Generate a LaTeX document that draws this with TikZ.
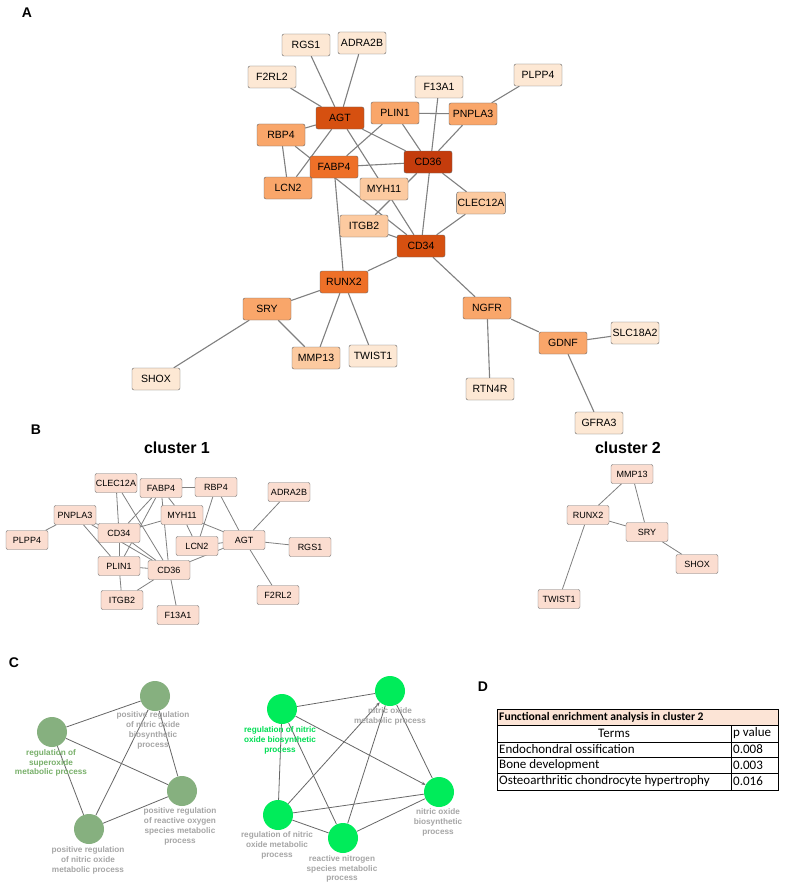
\documentclass[tikz,border=0pt]{standalone}
\usepackage{fontspec}
\setmainfont{Liberation Sans}
\newfontfamily\tablefont{Carlito}
\usetikzlibrary{positioning, arrows.meta, backgrounds}

\definecolor{shadeV}{RGB}{196,60,12}
\definecolor{shadeIV}{RGB}{214,80,16}
\definecolor{shadeIII}{RGB}{238,112,40}
\definecolor{shadeII}{RGB}{249,166,106}
\definecolor{shadeI}{RGB}{252,202,160}
\definecolor{shade0}{RGB}{253,232,212}
\definecolor{clusterfill}{RGB}{251,221,208}
\definecolor{termgrey}{RGB}{134,176,127}
\definecolor{termgreen}{RGB}{0,236,90}
\definecolor{labgreen}{RGB}{120,176,106}
\definecolor{labbright}{RGB}{0,222,84}
\definecolor{headfill}{RGB}{252,228,214}

\begin{document}
\begin{tikzpicture}[
        x=1pt, y=-1pt,
        gene/.style={draw=black!60, rounded corners=2pt, fill=shade0, minimum width=48pt, minimum height=22pt, inner sep=1pt, font=\fontsize{10.5}{10.5}\selectfont},
        member/.style={draw=black!55, rounded corners=2pt, fill=clusterfill, minimum width=42pt, minimum height=19pt, inner sep=1pt, font=\fontsize{9}{9}\selectfont},
        panel/.style={font=\fontsize{14}{14}\selectfont\bfseries},
        heading/.style={font=\fontsize{16}{16}\selectfont\bfseries},
        term/.style={circle, minimum size=30pt, inner sep=0pt},
        termtext/.style={align=center, text=black!35, inner sep=0pt, font=\fontsize{8.2}{9.8}\selectfont\bfseries},
        cell/.style={inner sep=0pt, font=\tablefont\fontsize{13}{13}\selectfont},
        link/.style={draw=black!50, line width=1.1pt},
        flow/.style={draw=black!60, line width=0.8pt}
    ]

    % Panel letters
    \node[panel] (lab-a) at (27,13) {A};
    \node[panel] (lab-b) at (36,430) {B};
    \node[panel] (lab-c) at (14,663) {C};
    \node[panel] (lab-d) at (483,687) {D};

    % Panel A: whole network
    \node[gene] (rgs1) at (306,45) {RGS1};
    \node[gene] (adra2b) at (362,43) {ADRA2B};
    \node[gene] (f2rl2) at (272,77) {F2RL2};
    \node[gene] (plpp4) at (538,75) {PLPP4};
    \node[gene] (f13a1) at (439,87) {F13A1};
    \node[gene, fill=shadeIV] (agt) at (340,118) {AGT};
    \node[gene, fill=shadeII] (plin1) at (395,113) {PLIN1};
    \node[gene, fill=shadeII] (pnpla3) at (473,114) {PNPLA3};
    \node[gene, fill=shadeII] (rbp4) at (281,135) {RBP4};
    \node[gene, fill=shadeV] (cd36) at (428,162) {CD36};
    \node[gene, fill=shadeIII] (fabp4) at (334,167) {FABP4};
    \node[gene, fill=shadeII] (lcn2) at (288,188) {LCN2};
    \node[gene, fill=shadeI] (myh11) at (384,189) {MYH11};
    \node[gene, fill=shadeI] (clec12a) at (481,203) {CLEC12A};
    \node[gene, fill=shadeI] (itgb2) at (364,226) {ITGB2};
    \node[gene, fill=shadeIV] (cd34) at (421,246) {CD34};
    \node[gene, fill=shadeIII] (runx2) at (344,282) {RUNX2};
    \node[gene, fill=shadeII] (sry) at (267,309) {SRY};
    \node[gene, fill=shadeII] (ngfr) at (487,308) {NGFR};
    \node[gene] (slc18a2) at (635,333) {SLC18A2};
    \node[gene, fill=shadeII] (gdnf) at (563,343) {GDNF};
    \node[gene, fill=shadeI] (mmp13) at (316,358) {MMP13};
    \node[gene] (twist1) at (373,356) {TWIST1};
    \node[gene] (shox) at (156,379) {SHOX};
    \node[gene] (rtn4r) at (490,389) {RTN4R};
    \node[gene] (gfra3) at (599,423) {GFRA3};

    % Panel B: cluster 1
    \node[heading] (title-c1) at (177,448) {cluster 1};
    \node[member] (clec12a-c1) at (116,483) {CLEC12A};
    \node[member] (fabp4-c1) at (161,488) {FABP4};
    \node[member] (rbp4-c1) at (216,487) {RBP4};
    \node[member] (adra2b-c1) at (289,492) {ADRA2B};
    \node[member] (pnpla3-c1) at (75,515) {PNPLA3};
    \node[member] (myh11-c1) at (182,515) {MYH11};
    \node[member] (plpp4-c1) at (27,540) {PLPP4};
    \node[member] (cd34-c1) at (119,533) {CD34};
    \node[member] (agt-c1) at (244,540) {AGT};
    \node[member] (rgs1-c1) at (310,547) {RGS1};
    \node[member] (lcn2-c1) at (197,546) {LCN2};
    \node[member] (plin1-c1) at (119,566) {PLIN1};
    \node[member] (cd36-c1) at (169,570) {CD36};
    \node[member] (itgb2-c1) at (122,600) {ITGB2};
    \node[member] (f2rl2-c1) at (278,595) {F2RL2};
    \node[member] (f13a1-c1) at (178,615) {F13A1};

    % Panel B: cluster 2
    \node[heading] (title-c2) at (628,448) {cluster 2};
    \node[member] (mmp13-c2) at (632,474) {MMP13};
    \node[member] (runx2-c2) at (588,515) {RUNX2};
    \node[member] (sry-c2) at (647,532) {SRY};
    \node[member] (shox-c2) at (697,564) {SHOX};
    \node[member] (twist1-c2) at (559,599) {TWIST1};

    % Panel C: left term network
    \node[term, fill=termgrey] (sox) at (52,732) {};
    \node[term, fill=termgrey] (nobio) at (155,696) {};
    \node[term, fill=termgrey] (ros) at (182,791) {};
    \node[term, fill=termgrey] (nometa) at (89,829) {};
    \node[termtext, text=labgreen] (sox-txt) at (51,763) {regulation of\\superoxide\\metabolic process};
    \node[termtext] (nobio-txt) at (153,730.5) {positive regulation\\of nitric oxide\\biosynthetic\\process};
    \node[termtext] (ros-txt) at (180,826.5) {positive regulation\\of reactive oxygen\\species metabolic\\process};
    \node[termtext] (nometa-txt) at (88,860.5) {positive regulation\\of nitric oxide\\metabolic process};

    % Panel C: right term network
    \node[term, fill=termgreen] (regbio) at (282,709) {};
    \node[term, fill=termgreen] (nomp) at (390,691) {};
    \node[term, fill=termgreen] (nobp) at (439,792) {};
    \node[term, fill=termgreen] (regmeta) at (278,815) {};
    \node[term, fill=termgreen] (rns) at (343,838) {};
    \node[termtext, text=labbright] (regbio-txt) at (280,740.5) {regulation of nitric\\oxide biosynthetic\\process};
    \node[termtext] (nomp-txt) at (390,716) {nitric oxide\\metabolic process};
    \node[termtext] (nobp-txt) at (438,822.5) {nitric oxide\\biosynthetic\\process};
    \node[termtext] (regmeta-txt) at (277,845.5) {regulation of nitric\\oxide metabolic\\process};
    \node[termtext] (rns-txt) at (342,869) {reactive nitrogen\\species metabolic\\process};

    % Panel D: table
    \fill[headfill] (497,709) rectangle (778,725);
    \draw[thin] (497,709) rectangle (778,790);
    \draw[thin] (497,725) -- (778,725);
    \draw[thin] (497,742) -- (778,742);
    \draw[thin] (497,757) -- (778,757);
    \draw[thin] (497,773) -- (778,773);
    \draw[thin] (731,725) -- (731,790);
    \node[cell, anchor=west, font=\tablefont\fontsize{11.6}{11.6}\selectfont\bfseries] (tab-title) at (499,717) {Functional enrichment analysis in cluster 2};
    \node[cell] (tab-terms) at (614,733.5) {Terms};
    \node[cell, anchor=west] (tab-p) at (733,733.5) {p value};
    \node[cell, anchor=west] (tab-t1) at (499,749.5) {Endochondral ossification};
    \node[cell, anchor=west] (tab-p1) at (733,749.5) {0.008};
    \node[cell, anchor=west] (tab-t2) at (499,765) {Bone development};
    \node[cell, anchor=west] (tab-p2) at (733,765) {0.003};
    \node[cell, anchor=west] (tab-t3) at (499,781.5) {Osteoarthritic chondrocyte hypertrophy};
    \node[cell, anchor=west] (tab-p3) at (733,781.5) {0.016};

    \begin{scope}[on background layer]
    \fill[white] (0,0) rectangle (787,888);

    % Edges of panel A
    \draw[link] (rgs1) -- (agt);
    \draw[link] (adra2b) -- (agt);
    \draw[link] (f2rl2) -- (agt);
    \draw[link] (rbp4) -- (agt);
    \draw[link] (agt) -- (lcn2);
    \draw[link] (agt) -- (cd34);
    \draw[link] (agt) -- (cd36);
    \draw[link] (rbp4) -- (cd34);
    \draw[link] (rbp4) -- (lcn2);
    \draw[link] (plin1) -- (fabp4);
    \draw[link] (plin1) -- (pnpla3);
    \draw[link] (plin1) -- (cd36);
    \draw[link] (f13a1) -- (cd34);
    \draw[link] (pnpla3) -- (plpp4);
    \draw[link] (pnpla3) -- (cd36);
    \draw[link] (fabp4) -- (cd36);
    \draw[link] (fabp4) -- (runx2);
    \draw[link] (cd36) -- (itgb2);
    \draw[link] (cd36) -- (clec12a);
    \draw[link] (clec12a) -- (cd34);
    \draw[link] (itgb2) -- (cd34);
    \draw[link] (cd34) -- (runx2);
    \draw[link] (cd34) -- (ngfr);
    \draw[link] (runx2) -- (sry);
    \draw[link] (runx2) -- (mmp13);
    \draw[link] (runx2) -- (twist1);
    \draw[link] (sry) -- (mmp13);
    \draw[link] (sry) -- (shox);
    \draw[link] (ngfr) -- (rtn4r);
    \draw[link] (ngfr) -- (gdnf);
    \draw[link] (gdnf) -- (slc18a2);
    \draw[link] (gdnf) -- (gfra3);

    % Edges of cluster 1
    \draw[link, line width=0.8pt] (plpp4-c1) -- (pnpla3-c1);
    \draw[link, line width=0.8pt] (pnpla3-c1) -- (cd34-c1);
    \draw[link, line width=0.8pt] (pnpla3-c1) -- (plin1-c1);
    \draw[link, line width=0.8pt] (pnpla3-c1) -- (cd36-c1);
    \draw[link, line width=0.8pt] (clec12a-c1) -- (cd34-c1);
    \draw[link, line width=0.8pt] (clec12a-c1) -- (cd36-c1);
    \draw[link, line width=0.8pt] (fabp4-c1) -- (rbp4-c1);
    \draw[link, line width=0.8pt] (fabp4-c1) -- (cd34-c1);
    \draw[link, line width=0.8pt] (fabp4-c1) -- (plin1-c1);
    \draw[link, line width=0.8pt] (fabp4-c1) -- (cd36-c1);
    \draw[link, line width=0.8pt] (fabp4-c1) -- (myh11-c1);
    \draw[link, line width=0.8pt] (rbp4-c1) -- (lcn2-c1);
    \draw[link, line width=0.8pt] (rbp4-c1) -- (agt-c1);
    \draw[link, line width=0.8pt] (myh11-c1) -- (cd34-c1);
    \draw[link, line width=0.8pt] (myh11-c1) -- (lcn2-c1);
    \draw[link, line width=0.8pt] (myh11-c1) -- (agt-c1);
    \draw[link, line width=0.8pt] (cd34-c1) -- (plin1-c1);
    \draw[link, line width=0.8pt] (cd34-c1) -- (cd36-c1);
    \draw[link, line width=0.8pt] (plin1-c1) -- (cd36-c1);
    \draw[link, line width=0.8pt] (plin1-c1) -- (itgb2-c1);
    \draw[link, line width=0.8pt] (itgb2-c1) -- (cd36-c1);
    \draw[link, line width=0.8pt] (cd36-c1) -- (f13a1-c1);
    \draw[link, line width=0.8pt] (cd36-c1) -- (agt-c1);
    \draw[link, line width=0.8pt] (lcn2-c1) -- (agt-c1);
    \draw[link, line width=0.8pt] (agt-c1) -- (adra2b-c1);
    \draw[link, line width=0.8pt] (agt-c1) -- (rgs1-c1);
    \draw[link, line width=0.8pt] (agt-c1) -- (f2rl2-c1);

    % Edges of cluster 2
    \draw[link, line width=0.8pt] (mmp13-c2) -- (runx2-c2);
    \draw[link, line width=0.8pt] (mmp13-c2) -- (sry-c2);
    \draw[link, line width=0.8pt] (runx2-c2) -- (sry-c2);
    \draw[link, line width=0.8pt] (runx2-c2) -- (twist1-c2);
    \draw[link, line width=0.8pt] (sry-c2) -- (shox-c2);

    % Edges of panel C
    \draw[flow] (sox) -- (nobio);
    \draw[flow] (sox) -- (ros);
    \draw[flow] (sox) -- (nometa);
    \draw[flow] (nobio) -- (ros);
    \draw[flow] (nobio) -- (nometa);
    \draw[flow] (nometa) -- (ros);
    \draw[flow] (regbio) -- (nomp);
    \draw[flow, -{Stealth[length=4pt, width=3pt]}] (regbio) -- (nobp);
    \draw[flow] (regbio) -- (regmeta);
    \draw[flow] (regbio) -- (rns);
    \draw[flow, -{Stealth[length=4pt, width=3pt]}] (regmeta) -- (nomp);
    \draw[flow] (regmeta) -- (nobp);
    \draw[flow] (regmeta) -- (rns);
    \draw[flow] (rns) -- (nomp);
    \draw[flow] (rns) -- (nobp);
    \draw[flow] (nomp) -- (nobp);
    \end{scope}

\end{tikzpicture}
\end{document}
